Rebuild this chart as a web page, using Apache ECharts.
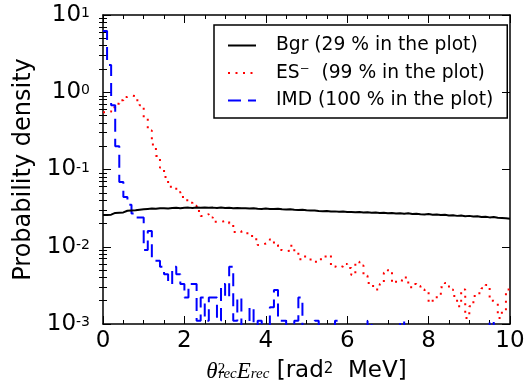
<!DOCTYPE html>
<html>
<head>
<meta charset="utf-8">
<script src="https://cdn.jsdelivr.net/npm/echarts@6/dist/echarts.min.js"></script>
<style>
  html, body { margin: 0; padding: 0; background: #fff; }
  #chart { width: 527px; height: 385px; }
</style>
</head>
<body>
<div id="chart"></div>
<script>
// histogram bins of width 0.1 over [0, 10]
const BIN = 0.1;
const X_MAX = 10;

const bgrValues = [
  0.0258, 0.0260, 0.0274, 0.0276, 0.0278, 0.0292, 0.0294, 0.0296, 0.0302, 0.0306,
  0.0309, 0.0312, 0.0310, 0.0314, 0.0316, 0.0313, 0.0317, 0.0319, 0.0316, 0.0320,
  0.0321, 0.0318, 0.0322, 0.0320, 0.0323, 0.0319, 0.0321, 0.0318, 0.0322, 0.0317,
  0.0319, 0.0316, 0.0318, 0.0314, 0.0316, 0.0312, 0.0315, 0.0311, 0.0309, 0.0312,
  0.0309, 0.0307, 0.0310, 0.0305, 0.0303, 0.0306, 0.0301, 0.0298, 0.0302, 0.0296,
  0.0294, 0.0295, 0.0290, 0.0288, 0.0290, 0.0285, 0.0287, 0.0283, 0.0285, 0.0281,
  0.0282, 0.0279, 0.0281, 0.0277, 0.0279, 0.0276, 0.0278, 0.0274, 0.0276, 0.0272,
  0.0274, 0.0270, 0.0272, 0.0268, 0.0271, 0.0266, 0.0268, 0.0264, 0.0262, 0.0265,
  0.0260, 0.0262, 0.0257, 0.0259, 0.0254, 0.0256, 0.0251, 0.0253, 0.0249, 0.0251,
  0.0246, 0.0248, 0.0243, 0.0245, 0.0240, 0.0242, 0.0237, 0.0235, 0.0233, 0.0231
];

const esValues = [
  0.55, 0.56, 0.64, 0.71, 0.79, 0.87, 0.91, 0.89, 0.79, 0.68,
  0.46, 0.32, 0.21, 0.15, 0.105, 0.08, 0.06, 0.06, 0.051, 0.044,
  0.040, 0.037, 0.034, 0.029, 0.025, 0.0265, 0.024, 0.021, 0.021, 0.0215,
  0.0215, 0.020, 0.0155, 0.016, 0.015, 0.015, 0.0138, 0.0125, 0.0105, 0.011,
  0.0115, 0.0125, 0.0105, 0.0091, 0.0088, 0.0089, 0.0103, 0.0087, 0.0069, 0.0075,
  0.0072, 0.0064, 0.0064, 0.0069, 0.0075, 0.0079, 0.0055, 0.0058, 0.0055, 0.0060,
  0.0053, 0.0043, 0.0064, 0.0057, 0.0042, 0.0034, 0.0031, 0.0028, 0.0033, 0.0046,
  0.0050, 0.0034, 0.0037, 0.0036, 0.0040, 0.0030, 0.0033, 0.0031, 0.0028, 0.0026,
  0.0019, 0.0021, 0.0023, 0.0030, 0.0034, 0.0028, 0.0023, 0.0017, 0.0028, 0.0012,
  0.0017, 0.0023, 0.0025, 0.0029, 0.0032, 0.0020, 0.0019, 0.0012, 0.0015, 0.0028
];

const imdValues = [
  6.2, 2.25, 0.68, 0.20, 0.069, 0.044, 0.035, 0.027, 0.024, 0.024,
  0.0091, 0.016, 0.0066, 0.0066, 0.0055, 0.0044, 0.0033, 0.0055, 0.0044, 0.0033,
  0.0022, 0.0033, 0.0033, 0.0011, 0.0022, 0.0011, 0.0022, 0.0022, 0.0011, 0.0033,
  0.0022, 0.0055, 0.0011, 0.0022, 0, 0, 0.00165, 0, 0.0011, 0,
  0, 0.00165, 0.00275, 0.0011, 0.0011, 0, 0, 0.0011, 0.0022, 0,
  0, 0, 0.0011, 0, 0, 0, 0, 0.0011, 0, 0,
  0, 0, 0, 0, 0, 0.0011, 0, 0, 0, 0,
  0, 0, 0, 0.0011, 0, 0, 0, 0, 0, 0,
  0, 0, 0, 0, 0, 0, 0, 0, 0, 0,
  0, 0, 0, 0, 0, 0.0011, 0, 0, 0, 0
];

const seriesNames = ['Bgr (29 % in the plot)', 'ES\u207B  (99 % in the plot)', 'IMD (100 % in the plot)'];
const majorTicks = [0.001, 0.01, 0.1, 1, 10];
const minorTicks = [];
majorTicks.slice(0, -1).forEach(d => { for (let k = 2; k <= 9; k++) minorTicks.push(+(d * k).toPrecision(3)); });

const FONT = 'DejaVu Sans';
const EMPTY = 1e-6; // empty bins fall below the axis and get clipped

// left bin edges, plus the closing point at X_MAX
function toSteps(vals) {
  const pts = vals.map((v, i) => [+(i * BIN).toFixed(1), v > 0 ? v : EMPTY]);
  pts.push([X_MAX, pts[pts.length - 1][1]]);
  return pts;
}

const chart = echarts.init(document.getElementById('chart'));

const frameLine = { show: true, onZero: false, lineStyle: { color: '#000', width: 1.5 } };
const tickStyle = { color: '#000', width: 1 };

function xAx(pos, withLabels) {
  return {
    type: 'value', position: pos, min: 0, max: X_MAX, interval: 2,
    axisLine: frameLine,
    axisTick: { show: true, inside: true, length: 8, lineStyle: tickStyle },
    minorTick: { show: true, splitNumber: 4, length: 4, lineStyle: tickStyle },
    axisLabel: { show: withLabels, color: '#000', fontSize: 23, fontFamily: FONT, margin: 6 },
    splitLine: { show: false }
  };
}

function yAx(pos, major, withLabels) {
  return {
    type: 'log', logBase: 10, position: pos, min: 0.001, max: 10,
    axisLine: major ? frameLine : { show: false },
    axisTick: { show: true, inside: true, length: major ? 8 : 4, lineStyle: tickStyle,
      customValues: major ? majorTicks : minorTicks },
    minorTick: { show: false },
    axisLabel: withLabels ? {
      customValues: majorTicks, margin: 13,
      formatter: v => '{b|10}{s|' + Math.round(Math.log10(v)) + '}',
      rich: {
        b: { fontSize: 23, lineHeight: 23, fontFamily: FONT, color: '#000', verticalAlign: 'bottom' },
        s: { fontSize: 14, lineHeight: 14, fontFamily: FONT, color: '#000', verticalAlign: 'top', padding: [3, 0, 12, 0] }
      }
    } : { show: false },
    splitLine: { show: false }
  };
}

const xTop = xAx('top', false);
const xBottom = xAx('bottom', true);
xBottom.name = '{m|\u03B8}{sp|2}{sb|rec}{m|E}{sb2|rec}{n| [rad}{ns|2}{n|  MeV]}';
xBottom.nameLocation = 'middle';
xBottom.nameGap = 36;
xBottom.nameTextStyle = {
  rich: {
    m: { fontSize: 23, lineHeight: 23, fontFamily: 'Liberation Serif', fontStyle: 'italic', color: '#000', verticalAlign: 'middle' },
    sp: { fontSize: 15, lineHeight: 15, fontFamily: 'Liberation Serif', color: '#000', verticalAlign: 'top', padding: [2, 0, 16, 0] },
    sb: { fontSize: 15, lineHeight: 15, fontFamily: 'Liberation Serif', fontStyle: 'italic', color: '#000', verticalAlign: 'bottom', padding: [0, 0, 1, -7] },
    sb2: { fontSize: 15, lineHeight: 15, fontFamily: 'Liberation Serif', fontStyle: 'italic', color: '#000', verticalAlign: 'bottom', padding: [0, 0, 1, 0] },
    n: { fontSize: 23, lineHeight: 23, fontFamily: FONT, color: '#000', verticalAlign: 'middle' },
    ns: { fontSize: 15, lineHeight: 15, fontFamily: FONT, color: '#000', verticalAlign: 'top', padding: [2, 0, 16, 0] }
  }
};

const yLeft = yAx('left', true, true);
yLeft.name = 'Probability density';
yLeft.nameLocation = 'middle';
yLeft.nameGap = 64;
yLeft.nameTextStyle = { fontSize: 24, fontFamily: FONT, color: '#000' };

chart.setOption({
  animation: false,
  backgroundColor: '#fff',
  grid: { left: 103, top: 15, width: 407, height: 309, containLabel: false, outerBoundsMode: 'none' },
  legend: {
    orient: 'vertical', left: 214, top: 25,
    padding: [11, 14, 8, 13], itemGap: 8.5, itemWidth: 28, itemHeight: 14,
    borderColor: '#000', borderWidth: 1.5, borderRadius: 0,
    itemStyle: { color: 'rgba(0,0,0,0)', borderWidth: 0, opacity: 0 },
    textStyle: { fontSize: 18.7, fontFamily: FONT, color: '#000', padding: [0, 0, 0, 15] },
    data: seriesNames
  },
  xAxis: [xBottom, xTop],
  yAxis: [yLeft, yAx('left', false, false), yAx('right', true, false), yAx('right', false, false)],
  series: [
    {
      name: seriesNames[0], type: 'line', step: 'end', symbol: 'none', data: toSteps(bgrValues),
      lineStyle: { color: '#000', width: 2 }, itemStyle: { color: '#000' }, z: 3
    },
    {
      name: seriesNames[1], type: 'line', step: 'end', symbol: 'none', data: toSteps(esValues),
      lineStyle: { color: '#ff0000', width: 2, type: [2, 5.5], cap: 'butt' }, itemStyle: { color: '#ff0000' }, z: 2
    },
    {
      name: seriesNames[2], type: 'line', step: 'end', symbol: 'none', data: toSteps(imdValues),
      lineStyle: { color: '#0000ff', width: 2, type: [13, 7] }, itemStyle: { color: '#0000ff' }, z: 2
    }
  ]
});
</script>
</body>
</html>
